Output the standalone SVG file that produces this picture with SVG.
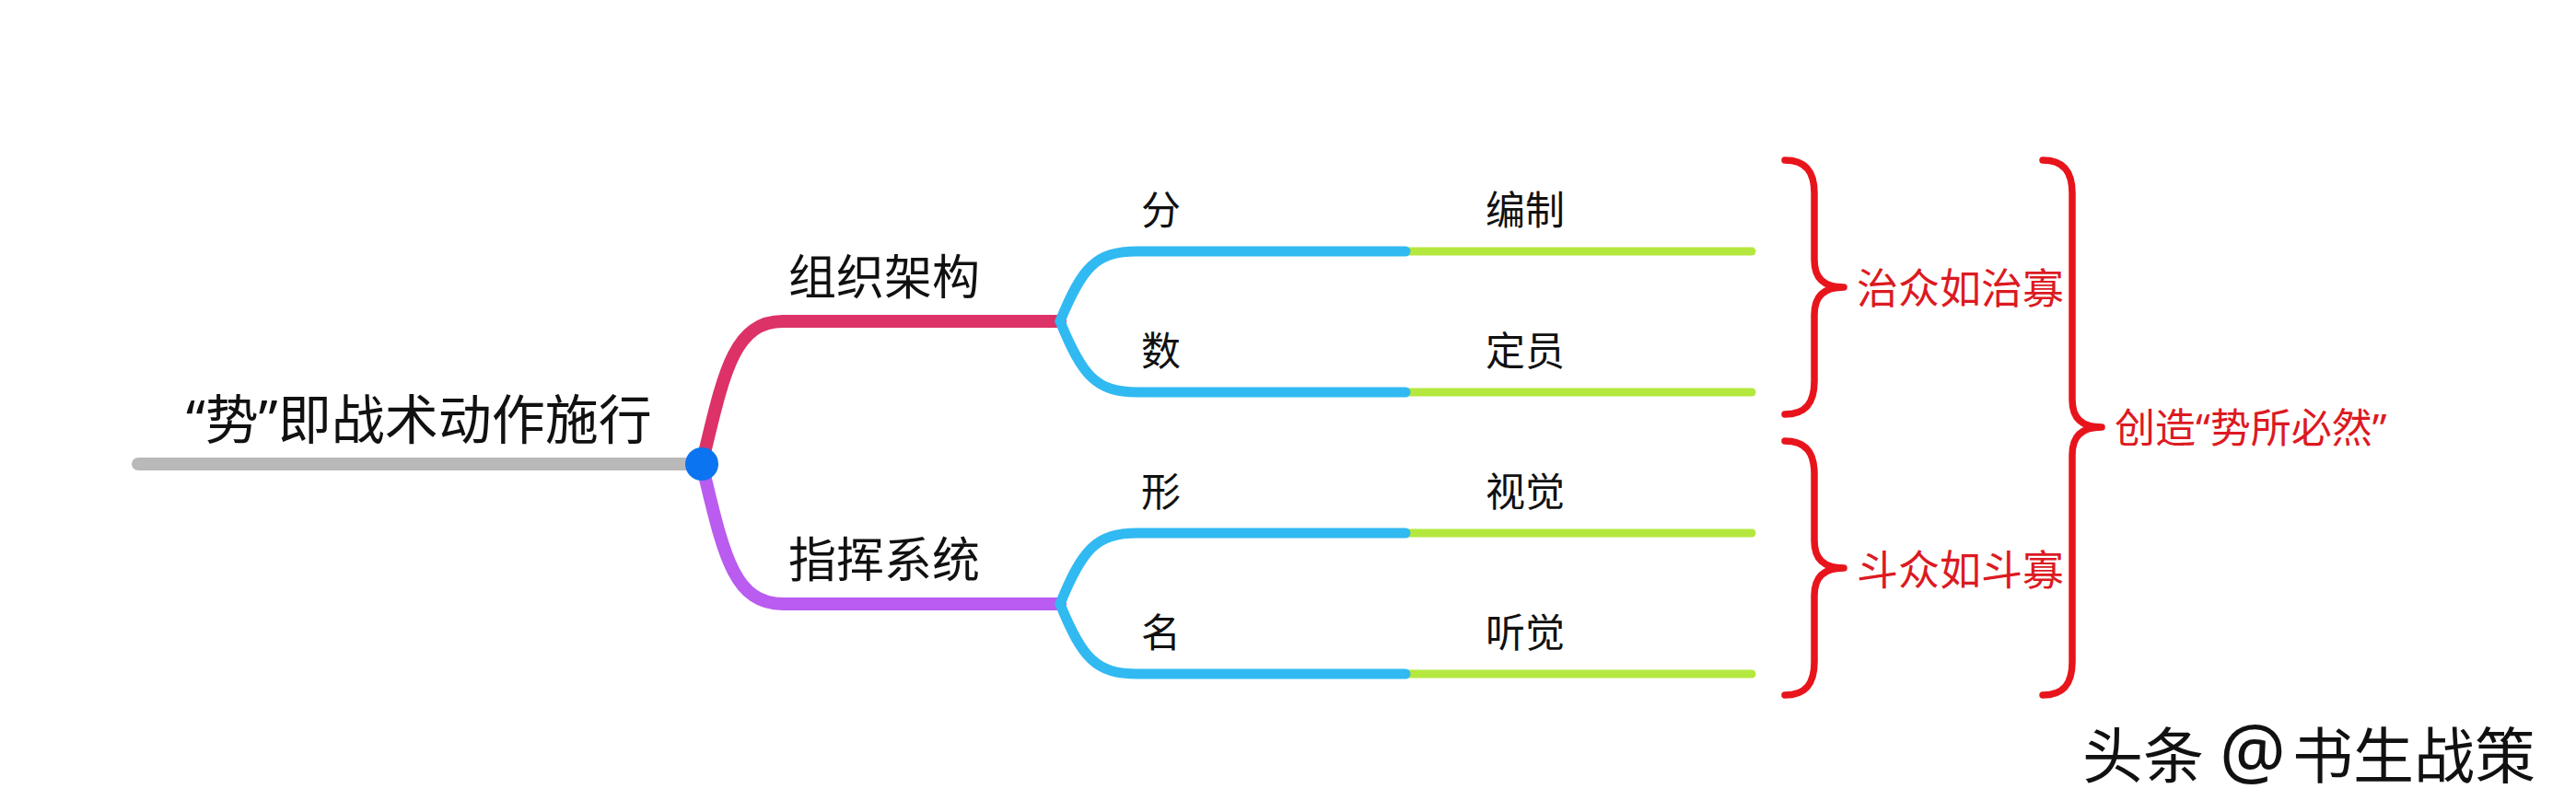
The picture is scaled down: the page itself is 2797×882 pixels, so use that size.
<svg xmlns="http://www.w3.org/2000/svg" width="2797" height="882" viewBox="0 0 2797 882">
<style>
.ln{fill:none;stroke-linecap:round;stroke-linejoin:round}
.gray{stroke:#b9b9b9;stroke-width:14}
.pink{stroke:#dc3268;stroke-width:14}
.purple{stroke:#b95cef;stroke-width:14}
.blue{stroke:#31b9f2;stroke-width:11}
.green{stroke:#b4e83e;stroke-width:9}
.brace{fill:none;stroke:#e8141c;stroke-width:7.5;stroke-linecap:round;stroke-linejoin:round}
.t{font-family:"Noto Sans","Noto Sans CJK SC",sans-serif;fill:#111}
.r{font-family:"Noto Sans","Noto Sans CJK SC",sans-serif;fill:#dc1a22}
</style>
<rect width="2797" height="882" fill="#fff"/>
<g id="connectors">
<path class="ln gray" d="M150 504 L762 504"/>
<path class="ln pink" d="M762 504 C785 410 795 349 850 349 L1151 349"/>
<path class="ln purple" d="M762 504 C785 598 795 656 850 656 L1151 656"/>
<path class="ln green" d="M1526 273 L1902 273"/>
<path class="ln green" d="M1526 426 L1902 426"/>
<path class="ln green" d="M1526 579 L1902 579"/>
<path class="ln green" d="M1526 732 L1902 732"/>
<path class="ln blue" d="M1151 349 C1175 290 1190 273 1235 273 L1526 273"/>
<path class="ln blue" d="M1151 349 C1175 408 1190 426 1235 426 L1526 426"/>
<path class="ln blue" d="M1151 656 C1175 597 1190 579 1235 579 L1526 579"/>
<path class="ln blue" d="M1151 656 C1175 715 1190 732 1235 732 L1526 732"/>
</g>
<g id="root">
<circle cx="762" cy="504" r="18" fill="#0b74f0"/>
<text class="t" x="202" y="477" font-size="58">“势”即战术动作施行</text>
</g>
<g id="n-zuzhi"><text class="t" x="856" y="320" font-size="52">组织架构</text></g>
<g id="n-zhihui"><text class="t" x="856" y="627" font-size="52">指挥系统</text></g>
<g id="n-fen"><text class="t" x="1239" y="244" font-size="43">分</text></g>
<g id="n-shu"><text class="t" x="1239" y="397" font-size="43">数</text></g>
<g id="n-xing"><text class="t" x="1239" y="550" font-size="43">形</text></g>
<g id="n-ming"><text class="t" x="1239" y="703" font-size="43">名</text></g>
<g id="n-bianzhi"><text class="t" x="1613" y="244" font-size="43">编制</text></g>
<g id="n-dingyuan"><text class="t" x="1613" y="397" font-size="43">定员</text></g>
<g id="n-shijue"><text class="t" x="1613" y="550" font-size="43">视觉</text></g>
<g id="n-tingjue"><text class="t" x="1613" y="703" font-size="43">听觉</text></g>
<g id="brace-1">
<path class="brace" d="M1938 174 C1962 174 1970 188 1970 210 L1970 282 C1970 302 1980 312 2002 312 C1980 312 1970 322 1970 342 L1970 414 C1970 436 1962 450 1938 450"/>
<text class="r" x="2016" y="330" font-size="45">治众如治寡</text>
</g>
<g id="brace-2">
<path class="brace" d="M1938 479 C1962 479 1970 493 1970 515 L1970 587 C1970 607 1980 617 2002 617 C1980 617 1970 627 1970 647 L1970 719 C1970 741 1962 755 1938 755"/>
<text class="r" x="2016" y="636" font-size="45">斗众如斗寡</text>
</g>
<g id="brace-big">
<path class="brace" d="M2218 174 C2242 174 2250 188 2250 210 L2250 434 C2250 454 2260 464 2282 464 C2260 464 2250 474 2250 494 L2250 719 C2250 741 2242 755 2218 755"/>
<text class="r" x="2296" y="481" font-size="44">创造“势所必然”</text>
</g>
<g id="watermark">
<text class="t" y="845" font-size="66" fill="#222"><tspan x="2261">头条</tspan><tspan x="2410" font-size="80">@</tspan><tspan x="2489">书生战策</tspan></text>
</g>
</svg>
